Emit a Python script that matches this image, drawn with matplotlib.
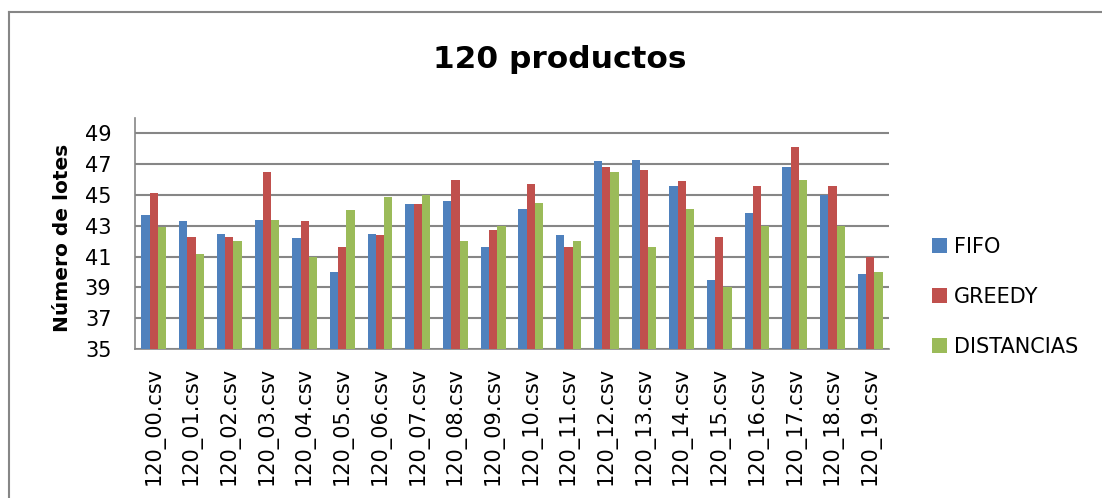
import numpy as np
import matplotlib
matplotlib.use("Agg")
import matplotlib.pyplot as plt
from matplotlib.lines import Line2D

plt.rcParams['font.family'] = ['DejaVu Sans']

# Datos: número de lotes por instancia y algoritmo
instancias = ['120_%02d.csv' % i for i in range(20)]
fifo = [43.7, 43.3, 42.5, 43.4, 42.2, 40.0, 42.5, 44.4, 44.6, 41.6,
        44.1, 42.4, 47.2, 47.3, 45.6, 39.5, 43.8, 46.8, 45.0, 39.9]
greedy = [45.1, 42.3, 42.3, 46.5, 43.3, 41.6, 42.4, 44.4, 46.0, 42.7,
          45.7, 41.6, 46.8, 46.6, 45.9, 42.3, 45.6, 48.1, 45.6, 41.0]
distancias = [42.9, 41.2, 42.0, 43.4, 41.0, 44.0, 44.9, 45.0, 42.0, 43.0,
              44.5, 42.0, 46.5, 41.6, 44.1, 39.0, 43.0, 46.0, 43.0, 40.0]

series = [('FIFO', fifo, '#4F81BD'),
          ('GREEDY', greedy, '#C0504D'),
          ('DISTANCIAS', distancias, '#9BBB59')]

fig = plt.figure(figsize=(11.02, 4.98), dpi=100)
ax = fig.add_axes([135 / 1102, 1 - 349 / 498, (889 - 135) / 1102, (349 - 118) / 498])

x = np.arange(len(instancias))
ancho = 0.22
for i, (nombre, valores, color) in enumerate(series):
    ax.bar(x + (i - 1) * ancho, np.array(valores) - 35, width=ancho, bottom=35,
           color=color, label=nombre, zorder=3)

ax.set_xlim(-0.5, len(instancias) - 0.5)
ax.set_ylim(35, 50)
ax.set_yticks(np.arange(35, 50, 2))
ax.set_xticks(x)
ax.set_xticklabels(instancias, rotation=90, fontsize=15)
ax.tick_params(axis='x', length=0, pad=13)
ax.tick_params(axis='y', length=0, labelsize=15, pad=17)
ax.yaxis.grid(True, color='#868686', linewidth=1.5, zorder=0)

for lado in ['top', 'right']:
    ax.spines[lado].set_visible(False)
for lado in ['left', 'bottom']:
    ax.spines[lado].set_color('#868686')
    ax.spines[lado].set_linewidth(1.2)

fig.text(63 / 1102, 1 - 238 / 498, 'Número de lotes', rotation=90, ha='center',
         va='center', fontsize=14.5, fontweight='bold')
fig.text(560 / 1102, 1 - 60 / 498, '120 productos', ha='center', va='center',
         fontsize=22.5, fontweight='bold')

ax.legend(loc='center left', bbox_to_anchor=(913 / 1102, 1 - 297 / 498),
          bbox_transform=fig.transFigure, frameon=False, fontsize=15,
          handlelength=0.72, handleheight=0.72, handletextpad=0.35,
          labelspacing=1.45)

# Borde del área del gráfico
fig.add_artist(Line2D([9 / 1102, 9 / 1102], [0, 1 - 12 / 498], color='#868686', linewidth=1.5))
fig.add_artist(Line2D([9 / 1102, 1], [1 - 12 / 498, 1 - 12 / 498], color='#868686', linewidth=1.5))

fig.savefig('out.png', dpi=100)
